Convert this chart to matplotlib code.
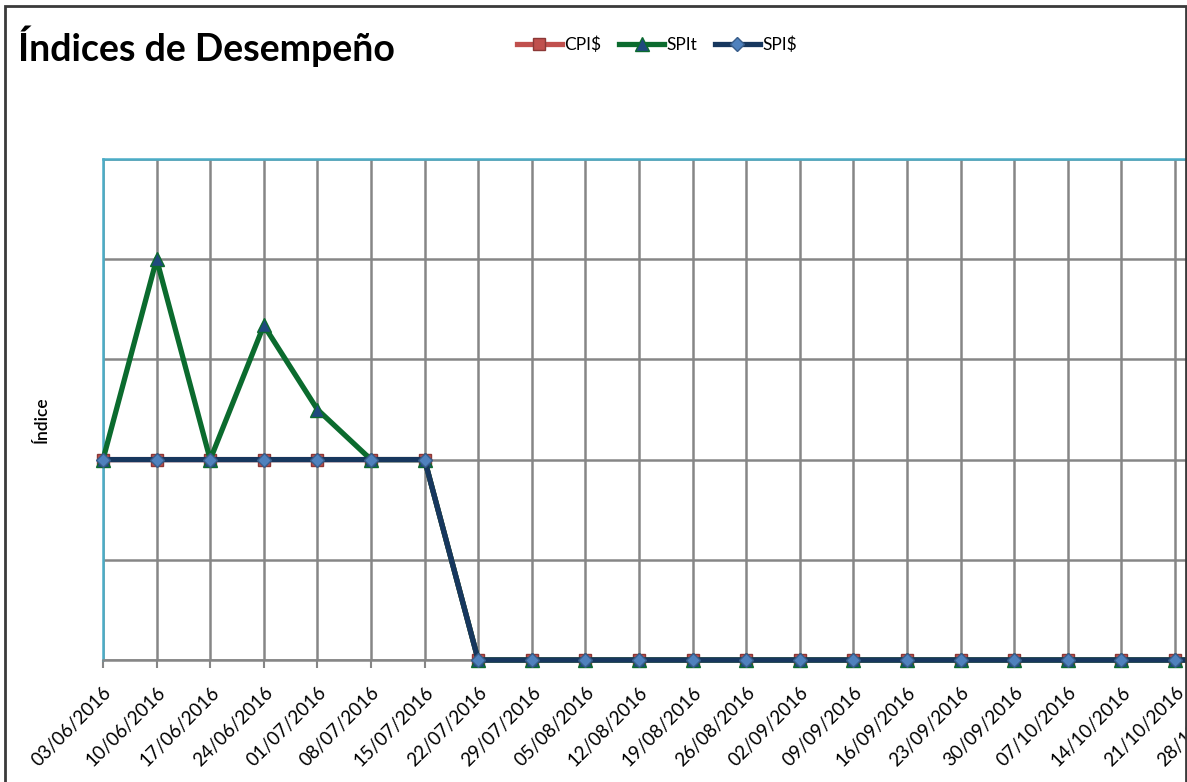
import matplotlib
matplotlib.use("Agg")
from matplotlib import pyplot as plt
from matplotlib.patches import Rectangle

plt.rcParams['font.family'] = ['Lato', 'DejaVu Sans']

# weekly status dates (the last one is cut off by the chart frame)
dates = ["03/06/2016", "10/06/2016", "17/06/2016", "24/06/2016", "01/07/2016",
         "08/07/2016", "15/07/2016", "22/07/2016", "29/07/2016", "05/08/2016",
         "12/08/2016", "19/08/2016", "26/08/2016", "02/09/2016", "09/09/2016",
         "16/09/2016", "23/09/2016", "30/09/2016", "07/10/2016", "14/10/2016",
         "21/10/2016", "28/10/2016"]
cpi_cost = [1, 1, 1, 1, 1, 1, 1, 0, 0, 0, 0, 0, 0, 0, 0, 0, 0, 0, 0, 0, 0, 0]
spi_time = [1, 2, 1, 1.67, 1.25, 1, 1, 0, 0, 0, 0, 0, 0, 0, 0, 0, 0, 0, 0, 0, 0, 0]
spi_cost = [1, 1, 1, 1, 1, 1, 1, 0, 0, 0, 0, 0, 0, 0, 0, 0, 0, 0, 0, 0, 0, 0]
y_grid = [0, 0.5, 1, 1.5, 2, 2.5]

W, H = 1187, 782
fig = plt.figure(figsize=(W / 100, H / 100), dpi=100)
fig.patches.append(Rectangle((5 / W, -0.1), 1181 / W, 1.1 - 6 / H, transform=fig.transFigure,
                             fill=False, edgecolor='#3a3a3a', linewidth=2))

x = list(range(len(dates)))
ax = fig.add_axes([103 / W, 122 / H, 53.6 * 21 / W, 501 / H])

ax.plot(x, cpi_cost, color='#C0504D', linewidth=3.8, marker='s', markersize=8.5,
        markerfacecolor='#C0504D', markeredgecolor='#8C3836', label='CPI\\$', clip_on=False, zorder=3)
ax.plot(x, spi_time, color='#0B6B2E', linewidth=3.8, marker='^', markersize=10,
        markerfacecolor='#1F497D', markeredgecolor='#0B6B2E', label='SPIt', clip_on=False, zorder=4)
ax.plot(x, spi_cost, color='#17375E', linewidth=3.8, marker='D', markersize=7.5,
        markerfacecolor='#4F81BD', markeredgecolor='#385D8A', label='SPI\\$', clip_on=False, zorder=5)

ax.set_xlim(0, len(dates) - 1)
ax.set_ylim(y_grid[0], y_grid[-1])
ax.set_yticks(y_grid)
ax.set_yticklabels([])
ax.tick_params(axis='y', length=0)
ax.set_xticks(x)
ax.set_xticklabels(dates, rotation=45, ha='right', va='top', rotation_mode='anchor', fontsize=13.5)
ax.tick_params(axis='x', length=6, width=1.5, color='#868686', pad=11)
ax.grid(True, color='#868686', linewidth=1.8)
ax.set_axisbelow(True)
for side in ['left', 'top']:
    ax.spines[side].set_color('#4BACC6')
    ax.spines[side].set_linewidth(1.8)
ax.spines['bottom'].set_color('#868686')
ax.spines['bottom'].set_linewidth(1.8)
ax.spines['right'].set_visible(False)

fig.text(42 / W, 1 - 420 / H, 'Índice', rotation=90, ha='center', va='center',
         fontsize=12.5, fontweight='semibold')
fig.text(18 / W, 1 - 46 / H, 'Índices de Desempeño', ha='left', va='center',
         fontsize=27, fontweight='bold')
fig.legend(loc='center', bbox_to_anchor=(657 / W, 1 - 45 / H), ncol=3, frameon=False,
           fontsize=12.5, handlelength=2.6, handletextpad=0.15, columnspacing=1.0)

fig.savefig('out.png', dpi=100)
